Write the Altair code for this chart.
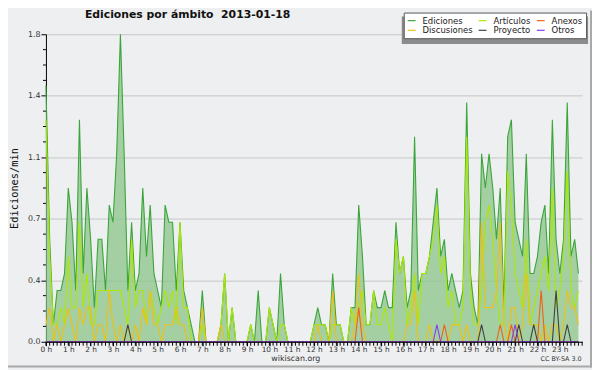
import altair as alt
import pandas as pd

# ---------------- data (values per 10-minute slot, edits/min) ----------------
edic = [
    1.5, 0.6, 0.1, 0.3, 0.3, 0.4,   # 0 h
    0.9, 0.7, 0.3, 1.3, 0.4, 0.9,   # 1 h
    0.6, 0.2, 0.6, 0.6, 0.3, 0.8,   # 2 h
    0.7, 1.1, 1.8, 1.1, 0.3, 0.7,   # 3 h
    0.3, 0.4, 0.9, 0.5, 0.8, 0.4,   # 4 h
    0.3, 0.2, 0.8, 0.7, 0.7, 0.3,   # 5 h
    0.7, 0.3, 0.2, 0.1, 0.0, 0.0,   # 6 h
    0.3, 0.0, 0.0, 0.0, 0.0, 0.1,   # 7 h
    0.4, 0.0, 0.2, 0.0, 0.0, 0.0,   # 8 h
    0.0, 0.1, 0.0, 0.3, 0.0, 0.0,   # 9 h
    0.2, 0.1, 0.0, 0.4, 0.1, 0.0,   # 10 h
    0.0, 0.0, 0.0, 0.0, 0.0, 0.0,   # 11 h
    0.1, 0.2, 0.1, 0.1, 0.0, 0.4,   # 12 h
    0.1, 0.1, 0.0, 0.0, 0.2, 0.2,   # 13 h
    0.8, 0.5, 0.1, 0.1, 0.3, 0.2,   # 14 h
    0.2, 0.3, 0.2, 0.2, 0.7, 0.4,   # 15 h
    0.5, 0.2, 0.3, 1.2, 0.3, 0.4,   # 16 h
    0.4, 0.5, 0.7, 0.9, 0.5, 0.6,   # 17 h
    0.3, 0.4, 0.3, 0.2, 0.3, 1.4,   # 18 h
    0.4, 0.2, 0.1, 1.1, 0.9, 1.1,   # 19 h
    0.9, 0.6, 0.9, 0.2, 1.2, 1.3,   # 20 h
    0.7, 0.6, 0.5, 1.1, 0.4, 0.4,   # 21 h
    0.5, 0.7, 0.8, 0.4, 1.3, 0.6,   # 22 h
    0.4, 0.6, 1.4, 0.5, 0.6, 0.4,   # 23 h
]
artic = [
    1.3, 0.5, 0.1, 0.1, 0.2, 0.1,
    0.5, 0.2, 0.2, 0.7, 0.2, 0.4,
    0.1, 0.1, 0.3, 0.3, 0.3, 0.3,
    0.3, 0.3, 0.3, 0.2, 0.1, 0.6,
    0.2, 0.3, 0.3, 0.1, 0.3, 0.2,
    0.1, 0.2, 0.3, 0.2, 0.3, 0.1,
    0.7, 0.2, 0.2, 0.0, 0.0, 0.0,
    0.1, 0.0, 0.0, 0.0, 0.0, 0.1,
    0.4, 0.0, 0.2, 0.0, 0.0, 0.0,
    0.0, 0.1, 0.0, 0.0, 0.0, 0.0,
    0.2, 0.1, 0.0, 0.1, 0.1, 0.0,
    0.0, 0.0, 0.0, 0.0, 0.0, 0.0,
    0.1, 0.1, 0.1, 0.1, 0.0, 0.1,
    0.1, 0.1, 0.0, 0.0, 0.2, 0.1,
    0.2, 0.3, 0.1, 0.1, 0.3, 0.1,
    0.1, 0.2, 0.1, 0.0, 0.6, 0.4,
    0.5, 0.1, 0.2, 0.4, 0.1, 0.4,
    0.4, 0.5, 0.6, 0.8, 0.4, 0.5,
    0.2, 0.3, 0.1, 0.1, 0.2, 1.2,
    0.3, 0.1, 0.1, 0.3, 0.7, 0.8,
    0.6, 0.3, 0.1, 0.1, 1.0, 0.8,
    0.4, 0.3, 0.2, 0.6, 0.1, 0.2,
    0.3, 0.4, 0.5, 0.3, 0.9, 0.2,
    0.3, 0.5, 1.0, 0.3, 0.2, 0.3,
]
discu = [
    0.1, 0.2, 0.0, 0.1, 0.0, 0.1,
    0.2, 0.1, 0.0, 0.2, 0.1, 0.2,
    0.2, 0.0, 0.1, 0.1, 0.0, 0.3,
    0.1, 0.0, 0.1, 0.0, 0.1, 0.0,
    0.1, 0.0, 0.2, 0.1, 0.3, 0.1,
    0.1, 0.0, 0.1, 0.1, 0.1, 0.2,
    0.1, 0.1, 0.0, 0.0, 0.0, 0.0,
    0.2, 0.0, 0.0, 0.0, 0.0, 0.1,
    0.0, 0.0, 0.0, 0.0, 0.0, 0.0,
    0.0, 0.0, 0.0, 0.0, 0.0, 0.0,
    0.0, 0.0, 0.0, 0.0, 0.0, 0.0,
    0.0, 0.0, 0.0, 0.0, 0.0, 0.0,
    0.0, 0.1, 0.0, 0.0, 0.0, 0.3,
    0.0, 0.0, 0.0, 0.0, 0.0, 0.1,
    0.4, 0.1, 0.0, 0.0, 0.0, 0.0,
    0.0, 0.0, 0.0, 0.0, 0.0, 0.0,
    0.0, 0.1, 0.1, 0.3, 0.0, 0.0,
    0.0, 0.1, 0.0, 0.0, 0.0, 0.0,
    0.0, 0.1, 0.1, 0.1, 0.0, 0.1,
    0.0, 0.0, 0.0, 0.7, 0.2, 0.2,
    0.2, 0.3, 0.7, 0.1, 0.0, 0.2,
    0.2, 0.0, 0.1, 0.4, 0.1, 0.1,
    0.1, 0.0, 0.1, 0.0, 0.1, 0.1,
    0.0, 0.1, 0.3, 0.2, 0.2, 0.1,
]
anexo = [
    0, 0, 0, 0, 0, 0,  0, 0, 0, 0, 0, 0,  0, 0, 0, 0, 0, 0,  0, 0, 0, 0, 0, 0,
    0, 0, 0, 0, 0, 0,  0, 0, 0, 0, 0, 0,  0, 0, 0, 0, 0, 0,  0, 0, 0, 0, 0, 0,
    0, 0, 0, 0, 0, 0,  0, 0, 0, 0, 0, 0,  0, 0, 0, 0, 0, 0,  0, 0, 0, 0, 0, 0,
    0, 0, 0, 0, 0, 0,  0, 0, 0, 0, 0, 0,  0.2, 0, 0, 0, 0, 0,  0, 0, 0, 0, 0, 0,
    0, 0, 0, 0, 0, 0,  0, 0, 0, 0, 0, 0.1,  0, 0, 0, 0, 0, 0,  0, 0, 0, 0, 0, 0,
    0, 0, 0.1, 0, 0, 0.1,  0, 0, 0, 0, 0, 0,  0, 0.3, 0, 0, 0, 0,  0, 0, 0, 0, 0, 0,
]
proye = [
    0, 0, 0, 0, 0, 0,  0, 0, 0, 0, 0, 0,  0, 0, 0, 0, 0, 0,  0, 0, 0, 0, 0.1, 0,
    0, 0, 0, 0, 0, 0,  0, 0, 0, 0, 0, 0,  0, 0, 0, 0, 0, 0,  0, 0, 0, 0, 0, 0,
    0, 0, 0, 0, 0, 0,  0, 0, 0, 0, 0, 0,  0, 0, 0, 0, 0, 0,  0, 0, 0, 0, 0, 0,
    0, 0, 0, 0, 0, 0,  0, 0, 0, 0, 0, 0,  0, 0, 0, 0, 0, 0,  0, 0, 0, 0, 0, 0,
    0, 0, 0, 0, 0, 0,  0, 0, 0, 0, 0, 0,  0, 0, 0, 0, 0, 0,  0, 0, 0, 0.1, 0, 0,
    0, 0, 0, 0, 0, 0,  0, 0.1, 0, 0, 0, 0.1,  0, 0, 0, 0, 0, 0.3,  0, 0, 0.1, 0, 0, 0,
]
otros = [
    0, 0, 0, 0, 0, 0,  0, 0, 0, 0, 0, 0,  0, 0, 0, 0, 0, 0,  0, 0, 0, 0, 0, 0,
    0, 0, 0, 0, 0, 0,  0, 0, 0, 0, 0, 0,  0, 0, 0, 0, 0, 0,  0, 0, 0, 0, 0, 0,
    0, 0, 0, 0, 0, 0,  0, 0, 0, 0, 0, 0,  0, 0, 0, 0, 0, 0,  0, 0, 0, 0, 0, 0,
    0, 0, 0, 0, 0, 0,  0, 0, 0, 0, 0, 0,  0, 0, 0, 0, 0, 0,  0, 0, 0, 0, 0, 0,
    0, 0, 0, 0, 0, 0,  0, 0, 0, 0.1, 0, 0,  0, 0, 0, 0, 0, 0,  0, 0, 0, 0, 0, 0,
    0, 0, 0, 0, 0, 0,  0.1, 0, 0, 0, 0, 0,  0, 0, 0, 0, 0, 0,  0, 0, 0, 0, 0, 0,
]

# legend is laid out column by column (2 rows x 3 columns)
legend_order = ["Ediciones", "Discusiones", "Artículos", "Proyecto", "Anexos", "Otros"]
legend_colors = ["#3aa53a", "#f0c010", "#aee800", "#404040", "#f06018", "#8a3cf0"]
draw_order = ["Ediciones", "Artículos", "Discusiones", "Anexos", "Proyecto", "Otros"]

hour_ticks = list(range(24))
y_major = [0, 0.36, 0.72, 1.08, 1.44, 1.8]
y_minor = [0.09, 0.18, 0.27, 0.45, 0.54, 0.63, 0.81, 0.90, 0.99,
           1.17, 1.26, 1.35, 1.53, 1.62, 1.71]

title_text = ["Ediciones por ámbito\u00a0 2013-01-18"]
y_title = "Ediciones/min"
site_text = ["wikiscan.org"]
lic_text = ["CC BY-SA 3.0"]

# ---------------- tables ----------------
n = len(edic)
hrs = [round(i / 6, 6) for i in range(n)]
x_minor = [round(k / 6, 6) for k in range(0, 145)]
series = {"Ediciones": edic, "Artículos": artic, "Discusiones": discu,
          "Anexos": anexo, "Proyecto": proye, "Otros": otros}
rows = []
for name in draw_order:
    for h, v in zip(hrs, series[name]):
        rows.append({"h": h, "v": v, "s": name})
long_df = pd.DataFrame(rows)
area_df = pd.DataFrame({"h": hrs, "v": edic})
yminor_df = pd.DataFrame({"v": y_minor})
xminor_df = pd.DataFrame({"h": x_minor})
one_df = pd.DataFrame({"k": [1]})

FONT = "DejaVu Sans"
xscale = alt.Scale(domain=[0, 24], nice=False, zero=False)
yscale = alt.Scale(domain=[0, 1.8], nice=False)

xaxis = alt.Axis(values=hour_ticks, title=None, grid=False,
                 labelExpr="datum.value + ' h'",
                 labelOverlap=False, labelFlush=False, tickSize=4, labelPadding=0,
                 labelFont=FONT, labelFontSize=7.5, labelColor="#333",
                 domainColor="black", tickColor="black", zindex=1)
yaxis = alt.Axis(values=y_major, format=".1f", title=y_title, grid=True,
                 gridColor="#c6c6c6", tickSize=5, labelPadding=1,
                 labelFont=FONT, labelFontSize=8, labelColor="#333",
                 titleFont="DejaVu Sans Mono", titleFontSize=10.5,
                 titleFontWeight="normal", titleColor="#111",
                 titleX=-32, titleY=156, titleAngle=-90,
                 titleAlign="center", titleBaseline="middle",
                 domainColor="black", tickColor="black", labelOverlap=False)

X = alt.X("h:Q", scale=xscale, axis=xaxis)
Y = alt.Y("v:Q", scale=yscale, axis=yaxis)

area = alt.Chart(area_df).mark_area(color="#8ac489", opacity=0.75).encode(x=X, y=Y)

lines = alt.Chart(long_df).mark_line(strokeWidth=1.1).encode(
    x=X, y=Y,
    color=alt.Color("s:N", title=None,
                    scale=alt.Scale(domain=legend_order, range=legend_colors),
                    legend=alt.Legend(orient="none", legendX=363, legendY=-22,
                                      columns=3, symbolType="stroke",
                                      symbolSize=64, symbolStrokeWidth=1.2,
                                      labelFont=FONT, labelFontSize=8.6,
                                      labelColor="#222", labelOffset=6,
                                      columnPadding=3, rowPadding=0,
                                      padding=3, fillColor="white",
                                      strokeColor="#555")),
    detail="s:N",
)

yminor = alt.Chart(yminor_df).mark_rule(color="black").encode(
    y=Y, x=alt.value(-3), x2=alt.value(0)
)
xminor = alt.Chart(xminor_df).mark_rule(color="black").encode(
    x=X, y=alt.value(312), y2=alt.value(316)
)

shadow = alt.Chart(one_df).mark_rect(color="#8c8c8c").encode(
    x=alt.value(361), x2=alt.value(550), y=alt.value(-18), y2=alt.value(10)
)

frame_right = alt.Chart(one_df).mark_rule(color="#a8a8a8", strokeWidth=2).encode(
    x=alt.value(553), y=alt.value(-24), y2=alt.value(338)
)
frame_bottom = alt.Chart(one_df).mark_rule(color="#a8a8a8", strokeWidth=2).encode(
    x=alt.value(-38.5), x2=alt.value(554), y=alt.value(337)
)

title = alt.Chart(pd.DataFrame({"t": title_text})).mark_text(
    font=FONT, fontSize=11, fontWeight="bold", color="#111",
    align="left", baseline="middle").encode(
    text="t:N", x=alt.value(39.5), y=alt.value(-19))

site = alt.Chart(pd.DataFrame({"t": site_text})).mark_text(
    font=FONT, fontSize=8, color="#333", align="center", baseline="middle").encode(
    text="t:N", x=alt.value(253.5), y=alt.value(329))

lic = alt.Chart(pd.DataFrame({"t": lic_text})).mark_text(
    font=FONT, fontSize=6.5, color="#333", align="right", baseline="middle").encode(
    text="t:N", x=alt.value(543.5), y=alt.value(330))

chart = alt.layer(area, lines, yminor, xminor, shadow, frame_right, frame_bottom,
                  title, site, lic).properties(
    width=544, height=312,
    autosize=alt.AutoSizeParams(type="none"),
    padding={"left": 38.5, "top": 24, "right": 10, "bottom": 26},
).configure(background="#eeeff0").configure_view(stroke="transparent")

chart.save("out.html", embed_options={"renderer": "svg", "actions": False})
